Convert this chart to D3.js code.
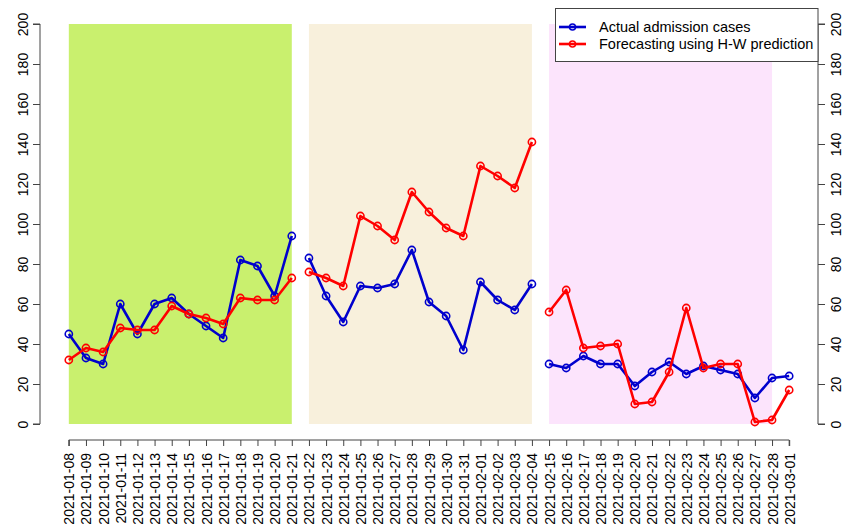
<!DOCTYPE html>
<html>
<head>
<meta charset="utf-8">
<script src="https://cdn.jsdelivr.net/npm/d3@7"></script>
<style>
  body { margin: 0; background: #fff; }
  svg { display: block; font-family: "Liberation Sans", Arial, Helvetica, sans-serif; }
</style>
</head>
<body>
<svg id="chart" width="845" height="531"></svg>
<script>
// Dates on the x axis, one per tick
const dates = [
  "2021-01-08","2021-01-09","2021-01-10","2021-01-11","2021-01-12","2021-01-13","2021-01-14",
  "2021-01-15","2021-01-16","2021-01-17","2021-01-18","2021-01-19","2021-01-20","2021-01-21",
  "2021-01-22","2021-01-23","2021-01-24","2021-01-25","2021-01-26","2021-01-27","2021-01-28",
  "2021-01-29","2021-01-30","2021-01-31","2021-02-01","2021-02-02","2021-02-03","2021-02-04",
  "2021-02-15","2021-02-16","2021-02-17","2021-02-18","2021-02-19","2021-02-20","2021-02-21",
  "2021-02-22","2021-02-23","2021-02-24","2021-02-25","2021-02-26","2021-02-27","2021-02-28",
  "2021-03-01"
];

// Three forecasting periods (start/end index into dates for each line segment)
const segments = [[0, 13], [14, 27], [28, 42]];
// Shaded windows behind each period: [first date, last date, colour]
const windows = [
  ["2021-01-08", "2021-01-21", "#c9f06e"],
  ["2021-01-22", "2021-02-04", "#f8f0dc"],
  ["2021-02-15", "2021-02-28", "#fce4fc"]
];

const actual = [
  45, 33, 30, 60, 45, 60, 63, 55, 49, 43, 82, 79, 64, 94,
  83, 64, 51, 69, 68, 70, 87, 61, 54, 37, 71, 62, 57, 70,
  30, 28, 34, 30, 30, 19, 26, 31, 25, 29, 27, 25, 13, 23, 24
];
const forecast = [
  32, 38, 36, 48, 47, 47, 59, 55, 53, 50, 63, 62, 62, 73,
  76, 73, 69, 104, 99, 92, 116, 106, 98, 94, 129, 124, 118, 141,
  56, 67, 38, 39, 40, 10, 11, 26, 58, 28, 30, 30, 1, 2, 17
];

const yTicks = [0, 20, 40, 60, 80, 100, 120, 140, 160, 180, 200];
const seriesNames = ["Actual admission cases", "Forecasting using H-W prediction"];
const seriesColors = ["#0000cd", "#ff0000"];

const svg = d3.select("#chart");
const plot = { left: 40, right: 818, top: 8, bottom: 440 };

// Index-based x scale with 4% padding on each side
const n = dates.length;
const padX = (n - 1) * 0.04;
const x = d3.scaleLinear().domain([-padX, n - 1 + padX]).range([plot.left, plot.right]);
const y = d3.scaleLinear().domain([-8, 208]).range([plot.bottom, plot.top]);
const idx = d => dates.indexOf(d);

// Shaded period windows
svg.append("g").selectAll("rect").data(windows).join("rect")
  .attr("x", d => x(idx(d[0])))
  .attr("width", d => x(idx(d[1])) - x(idx(d[0])))
  .attr("y", y(200))
  .attr("height", y(0) - y(200))
  .attr("fill", d => d[2]);

// Axes
const fontSize = 14;
const yAxisL = d3.axisLeft(y).tickValues(yTicks).tickSize(7).tickPadding(4);
const yAxisR = d3.axisRight(y).tickValues(yTicks).tickSize(7).tickPadding(4);

function styleAxis(g) {
  g.select(".domain").attr("stroke", "#444").attr("stroke-width", 1);
  g.selectAll(".tick line").attr("stroke", "#444");
  g.selectAll("text").attr("fill", "#000").attr("font-size", fontSize)
    .attr("font-family", "'Liberation Sans', Arial, sans-serif");
}

const gL = svg.append("g").attr("transform", `translate(${plot.left},0)`).call(yAxisL);
gL.select(".domain").attr("d", `M-7,${y(0)}H0V${y(200)}H-7`);
styleAxis(gL);
gL.selectAll(".tick text")
  .attr("text-anchor", "middle").attr("x", 0).attr("dy", 0)
  .attr("transform", "translate(-17,0) rotate(-90)")
  .attr("dominant-baseline", "central");

const gR = svg.append("g").attr("transform", `translate(${plot.right},0)`).call(yAxisR);
gR.select(".domain").attr("d", `M7,${y(0)}H0V${y(200)}H7`);
styleAxis(gR);
gR.selectAll(".tick text")
  .attr("text-anchor", "middle").attr("x", 0).attr("dy", 0)
  .attr("transform", "translate(18,0) rotate(-90)")
  .attr("dominant-baseline", "central");

const xAxis = d3.axisBottom(x).tickValues(d3.range(n)).tickFormat(i => dates[i]).tickSize(6);
const gX = svg.append("g").attr("transform", `translate(0,${plot.bottom})`).call(xAxis);
gX.select(".domain").attr("d", `M${x(0)},6V0H${x(n - 1)}V6`);
styleAxis(gX);
gX.selectAll(".tick text")
  .attr("text-anchor", "end").attr("x", 0).attr("y", 0).attr("dy", 0)
  .attr("transform", "translate(0,13) rotate(-90)")
  .attr("dominant-baseline", "central");

// Series lines and open-circle markers, broken between periods
const line = d3.line().x(d => x(d.i)).y(d => y(d.v));
[actual, forecast].forEach((vals, s) => {
  const g = svg.append("g");
  segments.forEach(([a, b]) => {
    const pts = d3.range(a, b + 1).map(i => ({ i, v: vals[i] }));
    g.append("path").datum(pts).attr("d", line)
      .attr("fill", "none").attr("stroke", seriesColors[s])
      .attr("stroke-width", 2.6).attr("stroke-linejoin", "round");
    g.selectAll(null).data(pts).join("circle")
      .attr("cx", d => x(d.i)).attr("cy", d => y(d.v)).attr("r", 3.6)
      .attr("fill", "none").attr("stroke", seriesColors[s]).attr("stroke-width", 1.6);
  });
});

// Legend in the top-right corner of the plot region
const lg = svg.append("g");
lg.append("rect").attr("x", 555.5).attr("y", plot.top + 0.5).attr("width", plot.right - 555.5)
  .attr("height", 53).attr("fill", "#fff").attr("stroke", "#444").attr("stroke-width", 1);
seriesNames.forEach((name, s) => {
  const cy = 27 + s * 17;
  lg.append("line").attr("x1", 559).attr("x2", 586).attr("y1", cy).attr("y2", cy)
    .attr("stroke", seriesColors[s]).attr("stroke-width", 2.6);
  lg.append("circle").attr("cx", 572.5).attr("cy", cy).attr("r", 3)
    .attr("fill", "none").attr("stroke", seriesColors[s]).attr("stroke-width", 1.6);
  lg.append("text").attr("x", 599).attr("y", cy).attr("dominant-baseline", "central")
    .attr("font-size", 14.5).attr("fill", "#000").text(name);
});
</script>
</body>
</html>
